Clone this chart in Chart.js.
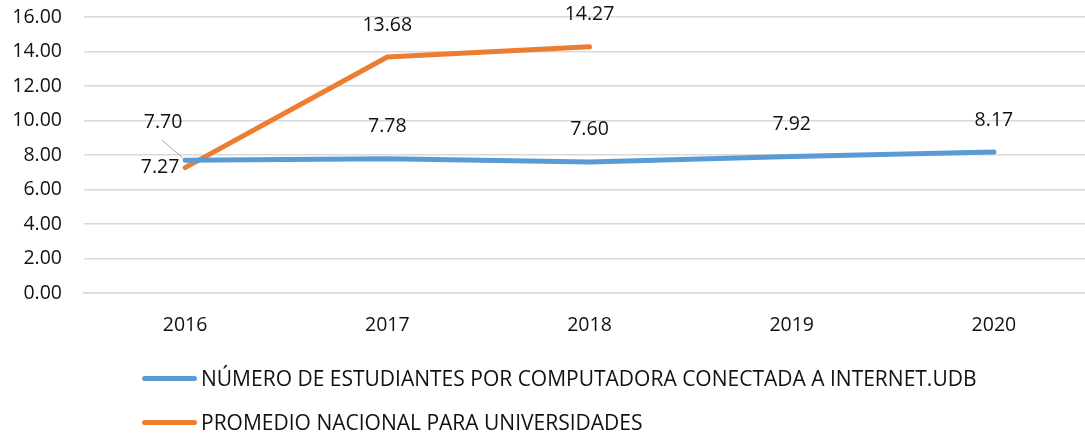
<!DOCTYPE html>
<html>
<head>
<meta charset="utf-8">
<script src="https://cdn.jsdelivr.net/npm/chart.js@4/dist/chart.umd.min.js"></script>
<style>
  html, body { margin: 0; padding: 0; background: #fff; overflow: hidden; }
  #wrap { position: relative; width: 1095px; height: 437px; }
  #legend { position: absolute; left: 142px; top: 0; font-family: "Open Sans", sans-serif; font-size: 21px; color: #111; }
  .item { position: absolute; left: 0; white-space: nowrap; display: flex; align-items: center; }
  .swatch { width: 55px; height: 5px; border-radius: 3px; margin-right: 4px; }
</style>
</head>
<body>
<div id="wrap">
  <canvas id="chart" width="1095" height="437"></canvas>
  <div id="legend"></div>
</div>
<script>
const years = ['2016', '2017', '2018', '2019', '2020'];
const udbValues = [7.70, 7.78, 7.60, 7.92, 8.17];
const nationalValues = [7.27, 13.68, 14.27, null, null];
const seriesNames = [
    'NÚMERO DE ESTUDIANTES POR COMPUTADORA CONECTADA A INTERNET.UDB',
    'PROMEDIO NACIONAL PARA UNIVERSIDADES'
];

const BLUE = '#5B9BD5';
const ORANGE = '#ED7D31';
const FONT = '"Open Sans", sans-serif';
const TEXT_SIZE = 19.5;

// label offsets (px) from the point, per dataset / index; default is straight above
const labelOffsets = {
    '0-0': { dx: -22, dy: -38, leader: true },
    '1-0': { dx: -25, dy: 0 }
};

const valueLabels = {
    id: 'valueLabels',
    afterDatasetsDraw(chart) {
        const ctx = chart.ctx;
        ctx.save();
        ctx.font = TEXT_SIZE + 'px ' + FONT;
        ctx.fillStyle = '#111';
        ctx.textAlign = 'center';
        ctx.textBaseline = 'middle';
        chart.data.datasets.forEach((ds, di) => {
            const meta = chart.getDatasetMeta(di);
            meta.data.forEach((pt, i) => {
                const v = ds.data[i];
                if (v === null || v === undefined) return;
                const off = labelOffsets[di + '-' + i] || { dx: 0, dy: -32 };
                const x = pt.x + off.dx, y = pt.y + off.dy;
                if (off.leader) {
                    ctx.strokeStyle = '#a6a6a6';
                    ctx.lineWidth = 1;
                    ctx.beginPath();
                    ctx.moveTo(x - 1, y + 18);
                    ctx.lineTo(pt.x - 1, pt.y - 1);
                    ctx.stroke();
                }
                ctx.fillText(v.toFixed(2), x, y);
            });
        });
        ctx.restore();
    }
};

const ctx = document.getElementById('chart').getContext('2d');
const chart = new Chart(ctx, {
    type: 'line',
    data: {
        labels: years,
        datasets: [{
            label: seriesNames[0],
            data: udbValues,
            borderColor: BLUE,
            backgroundColor: BLUE,
            borderWidth: 5,
            borderCapStyle: 'round',
            borderJoinStyle: 'round',
            pointRadius: 0,
            tension: 0
        }, {
            label: seriesNames[1],
            data: nationalValues,
            borderColor: ORANGE,
            backgroundColor: ORANGE,
            borderWidth: 5,
            borderCapStyle: 'round',
            borderJoinStyle: 'round',
            pointRadius: 0,
            spanGaps: false,
            tension: 0
        }]
    },
    options: {
        responsive: false,
        animation: false,
        layout: { padding: { top: 17, right: 0, bottom: 0, left: 0 } },
        plugins: {
            legend: { display: false },
            tooltip: { enabled: false }
        },
        scales: {
            x: {
                offset: true,
                grid: { display: false, drawTicks: false },
                border: { color: '#d9d9d9', width: 1.5 },
                ticks: { color: '#111', font: { family: FONT, size: TEXT_SIZE }, padding: 21 },
                afterFit(scale) { scale.height = 437 - 293; }
            },
            y: {
                min: 0,
                max: 16,
                ticks: {
                    stepSize: 2,
                    color: '#111',
                    font: { family: FONT, size: TEXT_SIZE },
                    padding: 22,
                    callback: v => v.toFixed(2)
                },
                grid: { color: '#d9d9d9', lineWidth: 1.5, drawTicks: false },
                border: { display: false },
                afterFit(scale) {
                    scale.width = 84;
                    scale.paddingTop = 0;
                    scale.paddingBottom = 0;
                }
            }
        }
    },
    plugins: [valueLabels]
});

// legend rows stacked and left-aligned, as in the reference
const legendEl = document.getElementById('legend');
const legendRows = [378, 422];
chart.data.datasets.forEach((ds, i) => {
    const item = document.createElement('div');
    item.className = 'item';
    item.style.top = (legendRows[i] - 15) + 'px';
    item.style.height = '30px';
    const sw = document.createElement('span');
    sw.className = 'swatch';
    sw.style.background = ds.borderColor;
    const txt = document.createElement('span');
    txt.textContent = ds.label;
    item.appendChild(sw);
    item.appendChild(txt);
    legendEl.appendChild(item);
});
</script>
</body>
</html>
